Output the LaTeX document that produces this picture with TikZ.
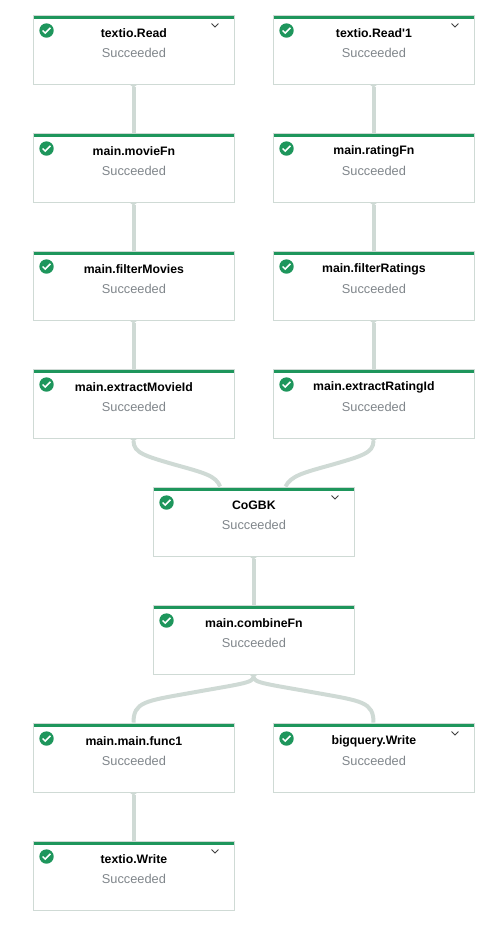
\documentclass[tikz,border=0pt]{standalone}
\usepackage{fontspec}
\setmainfont[Ligatures=TeXOff]{Liberation Sans}
\usetikzlibrary{arrows.meta}
\definecolor{barcol}{RGB}{30,150,92}
\definecolor{edgecol}{RGB}{207,218,213}
\definecolor{statuscol}{RGB}{128,134,139}
\tikzset{
  jobbox/.style={draw=edgecol,fill=white,line width=0.7pt,minimum width=150.75pt,minimum height=51.75pt,inner sep=0pt,
    path picture={\fill[barcol] (path picture bounding box.north west) rectangle ([yshift=-3.2pt]path picture bounding box.north east);}},
  jobtitle/.style={font=\fontsize{9.2}{11}\selectfont,text=black,inner sep=0pt},
  jobstatus/.style={font=\fontsize{9.6}{11}\selectfont,text=statuscol,inner sep=0pt},
  jobcheck/.style={circle,fill=barcol,minimum size=10.8pt,inner sep=0pt,
    path picture={\draw[white,line width=1.1pt] ([shift={(-2.9pt,0pt)}]path picture bounding box.center) -- ++(1.9pt,-1.9pt) -- ++(3.9pt,3.9pt);}},
  jobedge/.style={edgecol,line width=3pt,{Triangle[reversed,width=6pt,length=2.2pt]}-},
  jobchevron/.style={black!75,line width=0.7pt}
}
\newcommand{\jobnode}[4]{%
  \node[jobbox] (#1) at (#2,#3) {};
  \node[jobtitle] (#1title) at ([xshift=0.3pt,yshift=-12pt]#1.center) {\textbf{#4}};
  \node[jobstatus] (#1status) at ([xshift=0.3pt,yshift=2.3pt]#1.center) {Succeeded};
  \node[jobcheck] (#1check) at ([xshift=10.5pt,yshift=12pt]#1.north west) {};
}
\newcommand{\jobmore}[1]{%
  \draw[jobchevron] ([xshift=-17.25pt,yshift=6.75pt]#1.north east) -- ++(2.6pt,2.6pt) -- ++(2.6pt,-2.6pt);
}
\begin{document}
\begin{tikzpicture}[x=0.75pt,y=0.75pt,yscale=-1,xscale=1]
\useasboundingbox (0,0) rectangle (502,933);

% Left column
\jobnode{readmovie}{133.5}{49.5}{textio.Read}
\jobnode{moviefn}{133.5}{167.5}{main.movieFn}
\jobnode{filtermovies}{133.5}{285.5}{main.filterMovies}
\jobnode{extractmovie}{133.5}{403.5}{main.extractMovieId}

% Right column
\jobnode{readrating}{373.5}{49.5}{textio.Read'1}
\jobnode{ratingfn}{373.5}{167.5}{main.ratingFn}
\jobnode{filterratings}{373.5}{285.5}{main.filterRatings}
\jobnode{extractrating}{373.5}{403.5}{main.extractRatingId}

% Middle
\jobnode{cogbk}{253.5}{521.5}{CoGBK}
\jobnode{combinefn}{253.5}{639.5}{main.combineFn}

% Bottom
\jobnode{mainfunc}{133.5}{757.5}{main.main.func1}
\jobnode{bigquery}{373.5}{757.5}{bigquery.Write}
\jobnode{writetext}{133.5}{875.5}{textio.Write}

% Chevrons
\jobmore{readmovie}
\jobmore{readrating}
\jobmore{cogbk}
\jobmore{bigquery}
\jobmore{writetext}

% Straight edges
\draw[jobedge] (readmovie.south) -- (moviefn.north);
\draw[jobedge] (moviefn.south) -- (filtermovies.north);
\draw[jobedge] (filtermovies.south) -- (extractmovie.north);
\draw[jobedge] (readrating.south) -- (ratingfn.north);
\draw[jobedge] (ratingfn.south) -- (filterratings.north);
\draw[jobedge] (filterratings.south) -- (extractrating.north);
\draw[jobedge] (cogbk.south) -- (combinefn.north);
\draw[jobedge] (mainfunc.south) -- (writetext.north);

% Curved edges
\coordinate (mergeleft) at (176,465);
\coordinate (mergeright) at (331,465);
\draw[jobedge] (extractmovie.south) .. controls (133.5,453) and (145,456) .. (mergeleft) .. controls (205,473) and (216,476) .. ([xshift=-25pt]cogbk.north);
\draw[jobedge] (extractrating.south) .. controls (373.5,453) and (362,456) .. (mergeright) .. controls (302,473) and (291,476) .. ([xshift=24pt]cogbk.north);

\coordinate (splitleft) at (190,693);
\coordinate (splitright) at (317,693);
\draw[jobedge] (combinefn.south) .. controls (253.5,683) and (240,684) .. (splitleft) .. controls (145,701) and (133.5,702) .. (mainfunc.north);
\draw[jobedge] (combinefn.south) .. controls (253.5,683) and (267,684) .. (splitright) .. controls (362,701) and (373.5,702) .. (bigquery.north);

\end{tikzpicture}
\end{document}
